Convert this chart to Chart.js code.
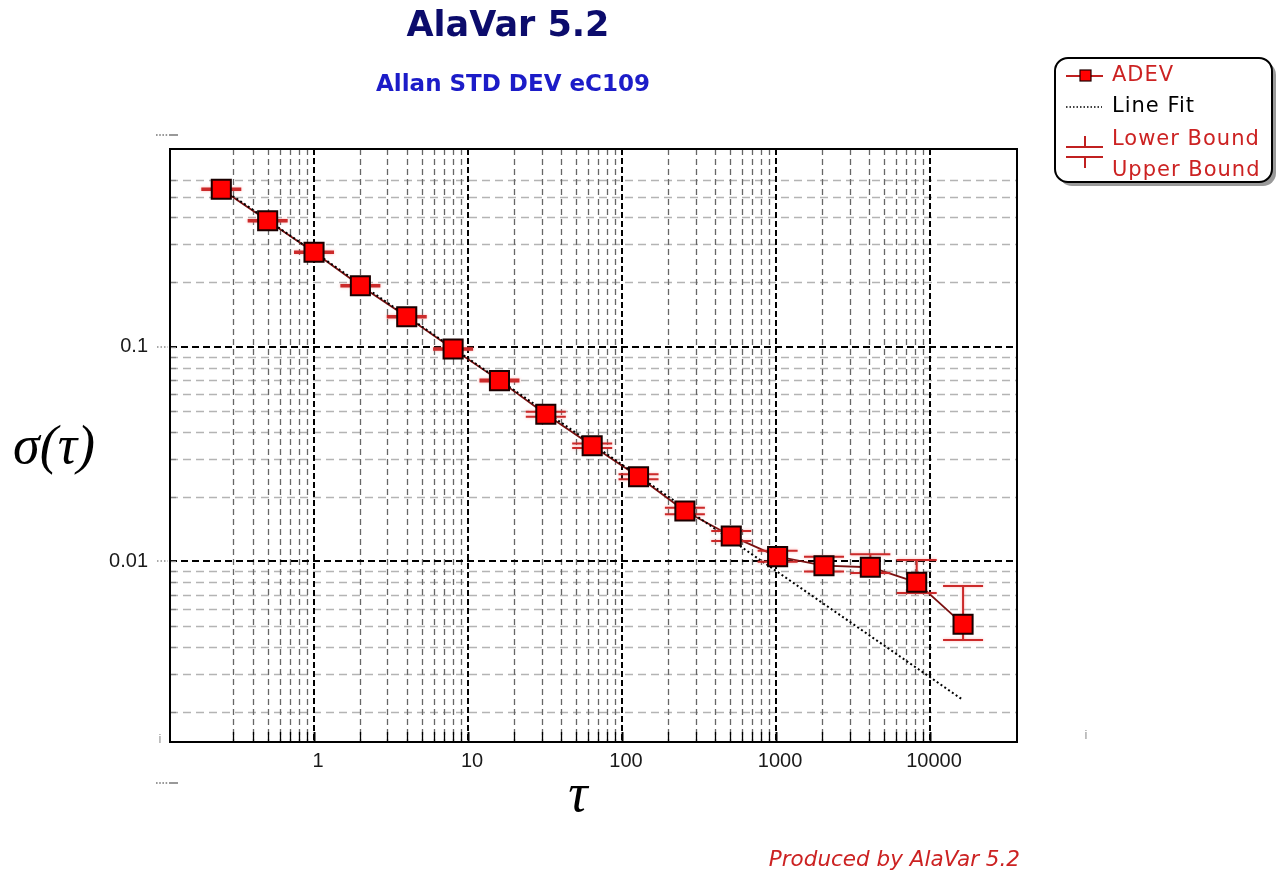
<!DOCTYPE html>
<html>
<head>
<meta charset="utf-8">
<script src="https://cdn.jsdelivr.net/npm/chart.js@4.4.1/dist/chart.umd.min.js"></script>
<style>
  html, body { margin: 0; padding: 0; background: #fff; }
  #wrap { width: 1282px; height: 874px; position: relative; }
</style>
</head>
<body>
<div id="wrap"><canvas id="c"></canvas></div>
<script>
// ---- data ----
const TAU   = [0.25, 0.5, 1, 2, 4, 8, 16, 32, 64, 128, 256, 512, 1024, 2048, 4096, 8192, 16384];
const ADEV  = [0.5405, 0.386, 0.2751, 0.1923, 0.1379, 0.0976, 0.0695, 0.04845, 0.03459, 0.02481, 0.01718, 0.01315, 0.01053, 0.00956, 0.0094, 0.0080, 0.0051];
const LOWER = [0.5365, 0.3831, 0.2731, 0.1909, 0.1369, 0.0969, 0.0688, 0.0472, 0.03375, 0.02416, 0.01658, 0.01246, 0.00998, 0.00897, 0.00884, 0.00713, 0.00431];
const UPPER = [0.5445, 0.3889, 0.2772, 0.1937, 0.1389, 0.0983, 0.0703, 0.0498, 0.03545, 0.02548, 0.0178, 0.01387, 0.01122, 0.01053, 0.01081, 0.01016, 0.00769];
const FIT_TAU = [0.25, 16384];
const FIT_VAL = [0.548, 0.002265];

const X_LABELS = [1, 10, 100, 1000, 10000];
const Y_LABELS = [0.1, 0.01];

// axis range and the span the dashed grid covers
const X_MIN = 0.1161, X_MAX = 36700;
const Y_MIN = 0.001444, Y_MAX = 0.8325;
const X_GRID = [0.3, 10000];
const Y_GRID = [0.002, 0.6];

const RED = '#cc2222';

// 1..9 x 10^e ticks inside [lo, hi]
function logTicks(lo, hi) {
  const out = [];
  for (let e = -4; e <= 5; e++) {
    for (let m = 1; m <= 9; m++) {
      const v = +(m * Math.pow(10, e)).toPrecision(6);
      if (v >= lo * 0.999 && v <= hi * 1.001) out.push(v);
    }
  }
  return out;
}
function isDecade(v) {
  const l = Math.log10(v);
  return Math.abs(l - Math.round(l)) < 1e-6;
}
function inList(list, v) {
  return list.some(function(l) { return Math.abs(l - v) < l * 1e-6; });
}

function drawErrorBars(chart) {
  const ctx = chart.ctx, x = chart.scales.x, y = chart.scales.y;
  ctx.save();
  ctx.strokeStyle = '#cc2a2a';
  ctx.lineWidth = 2;
  ctx.setLineDash([]);
  ctx.shadowColor = 'rgba(255,90,90,0.45)';
  ctx.shadowBlur = 3;
  TAU.forEach(function(t, i) {
    const px = x.getPixelForValue(t);
    const pu = y.getPixelForValue(UPPER[i]);
    const pl = y.getPixelForValue(LOWER[i]);
    ctx.beginPath();
    ctx.moveTo(px, pu); ctx.lineTo(px, pl);
    ctx.moveTo(px - 20, pu); ctx.lineTo(px + 20, pu);
    ctx.moveTo(px - 20, pl); ctx.lineTo(px + 20, pl);
    ctx.stroke();
  });
  ctx.restore();
}

function line(ctx, x1, y1, x2, y2) {
  ctx.beginPath(); ctx.moveTo(x1, y1); ctx.lineTo(x2, y2); ctx.stroke();
}

const alavarPlugin = {
  id: 'alavar',
  beforeDatasetsDraw(chart) {
    const ctx = chart.ctx, a = chart.chartArea, x = chart.scales.x, y = chart.scales.y;
    ctx.save();
    ctx.lineCap = 'butt';
    // minor horizontal
    y.ticks.forEach(function(t) {
      if (isDecade(t.value)) return;
      const py = Math.round(y.getPixelForValue(t.value)) + 0.5;
      ctx.setLineDash([8, 5]); ctx.strokeStyle = '#b4b4b4'; ctx.lineWidth = 1.3;
      line(ctx, a.left, py, a.right, py);
    });
    // minor vertical
    x.ticks.forEach(function(t) {
      if (isDecade(t.value)) return;
      const px = Math.round(x.getPixelForValue(t.value)) + 0.5;
      ctx.setLineDash([6, 4]); ctx.strokeStyle = '#666'; ctx.lineWidth = 1.3;
      line(ctx, px, a.top, px, a.bottom);
    });
    // decade lines
    y.ticks.forEach(function(t) {
      if (!isDecade(t.value)) return;
      const py = Math.round(y.getPixelForValue(t.value));
      ctx.setLineDash([7, 4]); ctx.strokeStyle = '#000'; ctx.lineWidth = 2;
      line(ctx, a.left, py, a.right, py);
      ctx.setLineDash([1.5, 2]); ctx.strokeStyle = '#555'; ctx.lineWidth = 1.2;
      line(ctx, a.left - 13, py, a.left - 2, py);
    });
    x.ticks.forEach(function(t) {
      if (!isDecade(t.value)) return;
      const px = Math.round(x.getPixelForValue(t.value));
      ctx.setLineDash([6, 3]); ctx.strokeStyle = '#000'; ctx.lineWidth = 2;
      line(ctx, px, a.top, px, a.bottom);
    });
    // inner tick marks
    ctx.setLineDash([]);
    x.ticks.forEach(function(t) {
      const px = Math.round(x.getPixelForValue(t.value)) + 0.5;
      ctx.strokeStyle = '#000'; ctx.lineWidth = isDecade(t.value) ? 2 : 1.3;
      line(ctx, px, a.bottom, px, a.bottom - 10);
    });
    y.ticks.forEach(function(t) {
      const py = Math.round(y.getPixelForValue(t.value)) + 0.5;
      ctx.strokeStyle = '#888'; ctx.lineWidth = 1.3;
      line(ctx, a.left, py, a.left + 6, py);
    });
    // frame
    ctx.strokeStyle = '#000'; ctx.lineWidth = 2;
    ctx.strokeRect(a.left, a.top, a.right - a.left, a.bottom - a.top);
    ctx.restore();
  },
  beforeDatasetDraw(chart, args) {
    if (args.index === 0) drawErrorBars(chart);
  },
  afterDraw(chart) {
    const ctx = chart.ctx;
    ctx.save();
    ctx.textBaseline = 'middle';

    // titles
    ctx.textAlign = 'center';
    ctx.fillStyle = '#0c0c6c';
    ctx.font = 'bold 35px "DejaVu Sans"';
    ctx.fillText('AlaVar 5.2', 508, 27);
    ctx.fillStyle = '#1c1cc8';
    ctx.font = 'bold 23px "DejaVu Sans"';
    ctx.fillText('Allan STD DEV eC109', 513, 85);

    // axis titles
    ctx.fillStyle = '#000';
    ctx.font = 'italic 54px "Liberation Serif"';
    ctx.fillText('σ(τ)', 54, 449);
    ctx.fillText('τ', 578, 797);

    // footer
    ctx.textAlign = 'right';
    ctx.fillStyle = RED;
    ctx.font = 'italic 21.5px "DejaVu Sans"';
    ctx.fillText('Produced by AlaVar 5.2', 1020, 860);

    // stray label remnants of the original
    ctx.fillStyle = '#999';
    [135, 783].forEach(function(yy) {
      for (let i = 0; i < 4; i++) ctx.fillRect(156 + i * 3.2, yy - 1, 1.6, 2);
      ctx.fillRect(169, yy - 1, 9, 2);
    });
    ctx.font = '13px "Liberation Sans"';
    ctx.textAlign = 'center';
    ctx.fillText('i', 160, 739);
    ctx.fillText('i', 1086, 735);

    // legend box
    const bx = 1055, by = 58, bw = 217, bh = 124, r = 13;
    function rr(x0, y0) {
      ctx.beginPath();
      ctx.roundRect(x0, y0, bw, bh, r);
    }
    ctx.fillStyle = '#9a9a9a';
    rr(bx + 4, by + 4); ctx.fill();
    ctx.fillStyle = '#fff';
    rr(bx, by); ctx.fill();
    ctx.strokeStyle = '#000'; ctx.lineWidth = 2;
    ctx.stroke();

    ctx.font = '21px "DejaVu Sans"';
    ctx.textAlign = 'left';
    ctx.letterSpacing = '1px';
    const tx = 1112;
    // ADEV
    ctx.strokeStyle = '#c02020'; ctx.lineWidth = 2;
    line(ctx, 1066, 76, 1103, 76);
    ctx.fillStyle = '#ff0000';
    ctx.fillRect(1080, 70, 11, 11);
    ctx.strokeStyle = '#200000'; ctx.lineWidth = 1.2;
    ctx.strokeRect(1080, 70, 11, 11);
    ctx.fillStyle = RED;
    ctx.fillText('ADEV', tx, 76);
    // Line Fit
    ctx.strokeStyle = '#000'; ctx.lineWidth = 1.5; ctx.setLineDash([1.5, 2]);
    line(ctx, 1066, 107, 1102, 107);
    ctx.setLineDash([]);
    ctx.fillStyle = '#000';
    ctx.fillText('Line Fit', tx, 107);
    // bounds
    ctx.strokeStyle = '#c02020'; ctx.lineWidth = 2;
    line(ctx, 1066, 147, 1103, 147);
    line(ctx, 1085, 136, 1085, 147);
    line(ctx, 1066, 157, 1103, 157);
    line(ctx, 1085, 157, 1085, 168);
    ctx.fillStyle = RED;
    ctx.fillText('Lower Bound', tx, 140);
    ctx.fillText('Upper Bound', tx, 171);
    ctx.restore();
  }
};

const tickFont = { family: '"Liberation Sans", Arial, sans-serif', size: 20 };

new Chart(document.getElementById('c'), {
  type: 'line',
  data: {
    datasets: [
      {
        label: 'ADEV',
        data: TAU.map(function(t, i) { return { x: t, y: ADEV[i] }; }),
        showLine: false,
        pointStyle: 'rect',
        pointRadius: 13.5,
        pointBackgroundColor: '#ff0000',
        pointBorderColor: '#1a0000',
        pointBorderWidth: 2
      },
      {
        label: 'Line Fit',
        data: FIT_TAU.map(function(t, i) { return { x: t, y: FIT_VAL[i] }; }),
        borderColor: '#000',
        borderWidth: 2,
        borderDash: [2, 2.6],
        pointRadius: 0,
        fill: false
      },
      {
        label: 'ADEV line',
        data: TAU.map(function(t, i) { return { x: t, y: ADEV[i] }; }),
        borderColor: '#7a1010',
        borderWidth: 1.8,
        pointRadius: 0,
        fill: false
      }
    ]
  },
  options: {
    responsive: true,
    maintainAspectRatio: false,
    animation: false,
    layout: { padding: { left: 0, top: 149, right: 265, bottom: 0 } },
    plugins: {
      legend: { display: false },
      tooltip: { enabled: false },
      title: { display: false }
    },
    scales: {
      x: {
        type: 'logarithmic',
        min: X_MIN, max: X_MAX,
        afterBuildTicks: function(s) { s.ticks = logTicks(X_GRID[0], X_GRID[1]).map(function(v) { return { value: v }; }); },
        afterFit: function(s) { s.height = 132; },
        grid: { display: false, drawTicks: false },
        border: { display: false },
        ticks: {
          autoSkip: false, maxRotation: 0, minRotation: 0,
          padding: 7, labelOffset: 4,
          color: '#1a1a1a', font: tickFont,
          callback: function(v) { return inList(X_LABELS, v) ? String(v) : ''; }
        }
      },
      y: {
        type: 'logarithmic',
        min: Y_MIN, max: Y_MAX,
        afterBuildTicks: function(s) { s.ticks = logTicks(Y_GRID[0], Y_GRID[1]).map(function(v) { return { value: v }; }); },
        afterFit: function(s) { s.width = 170; },
        grid: { display: false, drawTicks: false },
        border: { display: false },
        ticks: {
          autoSkip: false,
          padding: 22,
          color: '#1a1a1a', font: tickFont,
          callback: function(v) { return inList(Y_LABELS, v) ? String(v) : ''; }
        }
      }
    }
  },
  plugins: [alavarPlugin]
});
</script>
</body>
</html>
